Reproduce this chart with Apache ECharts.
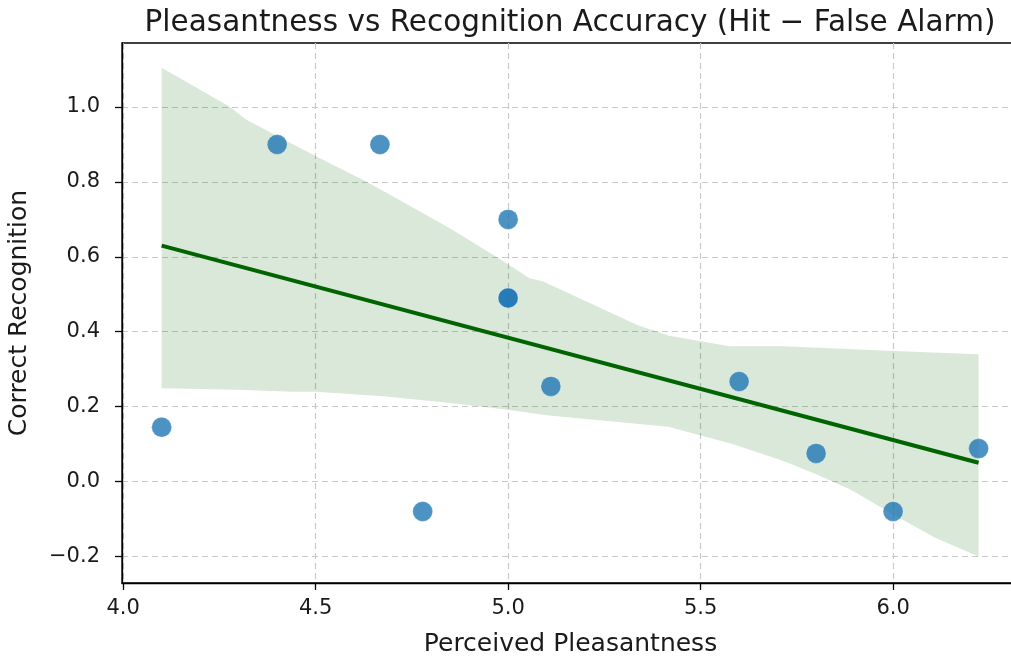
<!DOCTYPE html>
<html>
<head>
<meta charset="utf-8">
<script src="https://cdn.jsdelivr.net/npm/echarts@6/dist/echarts.min.js"></script>
<style>
  html, body { margin: 0; padding: 0; background: #ffffff; overflow: hidden; }
  #chart { width: 1011px; height: 660px; }
</style>
</head>
<body>
<div id="chart"></div>
<script>
// ---- data ----
const pleasantness = [4.1, 4.4, 4.667, 4.778, 5.0, 5.0, 5.0, 5.111, 5.6, 5.8, 6.0, 6.222];
const recognition  = [0.145, 0.9, 0.9, -0.08, 0.7, 0.49, 0.49, 0.254, 0.267, 0.075, -0.08, 0.088];

// confidence band edges (x, y)
const bandUpper = [
  [4.100, 1.105], [4.277, 1.001], [4.320, 0.966], [4.502, 0.868], [4.631, 0.801],
  [4.725, 0.748], [4.855, 0.672], [4.968, 0.601], [5.056, 0.543], [5.091, 0.534],
  [5.337, 0.417], [5.416, 0.390], [5.574, 0.361], [5.715, 0.361], [5.987, 0.349],
  [6.222, 0.340]
];
const bandLower = [
  [4.100, 0.249], [4.295, 0.245], [4.440, 0.240], [4.502, 0.240], [4.683, 0.227],
  [4.855, 0.209], [5.004, 0.191], [5.100, 0.177], [5.416, 0.146], [5.583, 0.100],
  [5.715, 0.055], [5.802, 0.019], [5.890, -0.022], [5.995, -0.085], [6.109, -0.150],
  [6.222, -0.200]
];

const xTicks = [4.0, 4.5, 5.0, 5.5, 6.0];
const yTicks = [-0.2, 0.0, 0.2, 0.4, 0.6, 0.8, 1.0];

const titleText = 'Pleasantness vs Recognition Accuracy (Hit \u2212 False Alarm)';
const xName = 'Perceived Pleasantness';
const yName = 'Correct Recognition';

// ---- least squares fit of the points ----
const n = pleasantness.length;
const mx = pleasantness.reduce((a, b) => a + b, 0) / n;
const my = recognition.reduce((a, b) => a + b, 0) / n;
let sxx = 0, sxy = 0;
for (let i = 0; i < n; i++) {
  sxx += (pleasantness[i] - mx) * (pleasantness[i] - mx);
  sxy += (pleasantness[i] - mx) * (recognition[i] - my);
}
const slope = sxy / sxx;
const icpt = my - slope * mx;
const xLo = Math.min(...pleasantness), xHi = Math.max(...pleasantness);
const fitLine = [[xLo, icpt + slope * xLo], [xHi, icpt + slope * xHi]];

const scatterData = pleasantness.map((x, i) => [x, recognition[i]]);

const FONT = 'DejaVu Sans';
const TXT = '#1a1a1a';

const chart = echarts.init(document.getElementById('chart'), null, { renderer: 'canvas', width: 1011, height: 660 });
chart.setOption({
  animation: false,
  backgroundColor: '#ffffff',
  title: {
    text: titleText,
    left: 565, top: 3, textAlign: 'center',
    textStyle: { fontFamily: FONT, fontSize: 29.5, fontWeight: 'normal', color: TXT }
  },
  grid: {
    left: 122, top: 43, width: 897, height: 540,
    outerBoundsMode: 'none', containLabel: false,
    show: true, borderColor: '#000000', borderWidth: 1.3, backgroundColor: 'transparent'
  },
  xAxis: [{
    type: 'value',
    min: 3.997, max: 6.327,
    splitNumber: 5, minInterval: 0.5, maxInterval: 0.5,
    name: xName, nameLocation: 'middle', nameGap: 49,
    nameTextStyle: { fontFamily: FONT, fontSize: 25, color: TXT },
    axisLine: { show: true, onZero: false, lineStyle: { color: '#000', width: 1.3 } },
    axisTick: { show: true, length: 7, lineStyle: { color: '#000', width: 1.3 } },
    axisLabel: {
      fontFamily: FONT, fontSize: 21, color: TXT, margin: 15,
      showMinLabel: false, showMaxLabel: false,
      formatter: v => xTicks.some(t => Math.abs(t - v) < 1e-6) ? v.toFixed(1) : ''
    },
    splitLine: { show: true, showMinLine: false, showMaxLine: false,
      lineStyle: { color: '#c8c8c8', type: [6, 4], width: 1.2 } }
  }],
  yAxis: [{
    type: 'value',
    min: -0.271, max: 1.171,
    splitNumber: 7, minInterval: 0.2, maxInterval: 0.2,
    name: yName, nameLocation: 'middle', nameGap: 90, nameRotate: 90,
    nameTextStyle: { fontFamily: FONT, fontSize: 25, color: TXT },
    axisLine: { show: true, onZero: false, lineStyle: { color: '#000', width: 1.3 } },
    axisTick: { show: true, length: 7, lineStyle: { color: '#000', width: 1.3 } },
    axisLabel: {
      fontFamily: FONT, fontSize: 21, color: TXT, margin: 22,
      showMinLabel: false, showMaxLabel: false,
      formatter: v => {
        const t = yTicks.find(t => Math.abs(t - v) < 1e-6);
        if (t === undefined) return '';
        return t < 0 ? '\u2212' + Math.abs(t).toFixed(1) : t.toFixed(1);
      }
    },
    splitLine: { show: true, showMinLine: false, showMaxLine: false,
      lineStyle: { color: '#c8c8c8', type: [6, 4], width: 1.2 } }
  }],
  series: [
    {
      type: 'custom',
      name: 'band',
      coordinateSystem: 'cartesian2d',
      clip: true,
      z: 1,
      data: [[bandUpper[0][0], bandUpper[0][1]]],
      renderItem: function (params, api) {
        const pts = [];
        bandUpper.forEach(p => pts.push(api.coord(p)));
        bandLower.slice().reverse().forEach(p => pts.push(api.coord(p)));
        return {
          type: 'polygon',
          shape: { points: pts },
          style: { fill: 'rgba(0,100,0,0.15)', stroke: null }
        };
      }
    },
    {
      type: 'line',
      name: 'fit',
      data: fitLine,
      showSymbol: false,
      z: 3,
      lineStyle: { color: '#006400', width: 4 }
    },
    {
      type: 'scatter',
      name: 'points',
      data: scatterData,
      symbolSize: 20,
      z: 4,
      itemStyle: { color: '#1f77b4', opacity: 0.8, borderColor: 'rgba(255,255,255,0.5)', borderWidth: 0.8 }
    }
  ]
});
</script>
</body>
</html>
